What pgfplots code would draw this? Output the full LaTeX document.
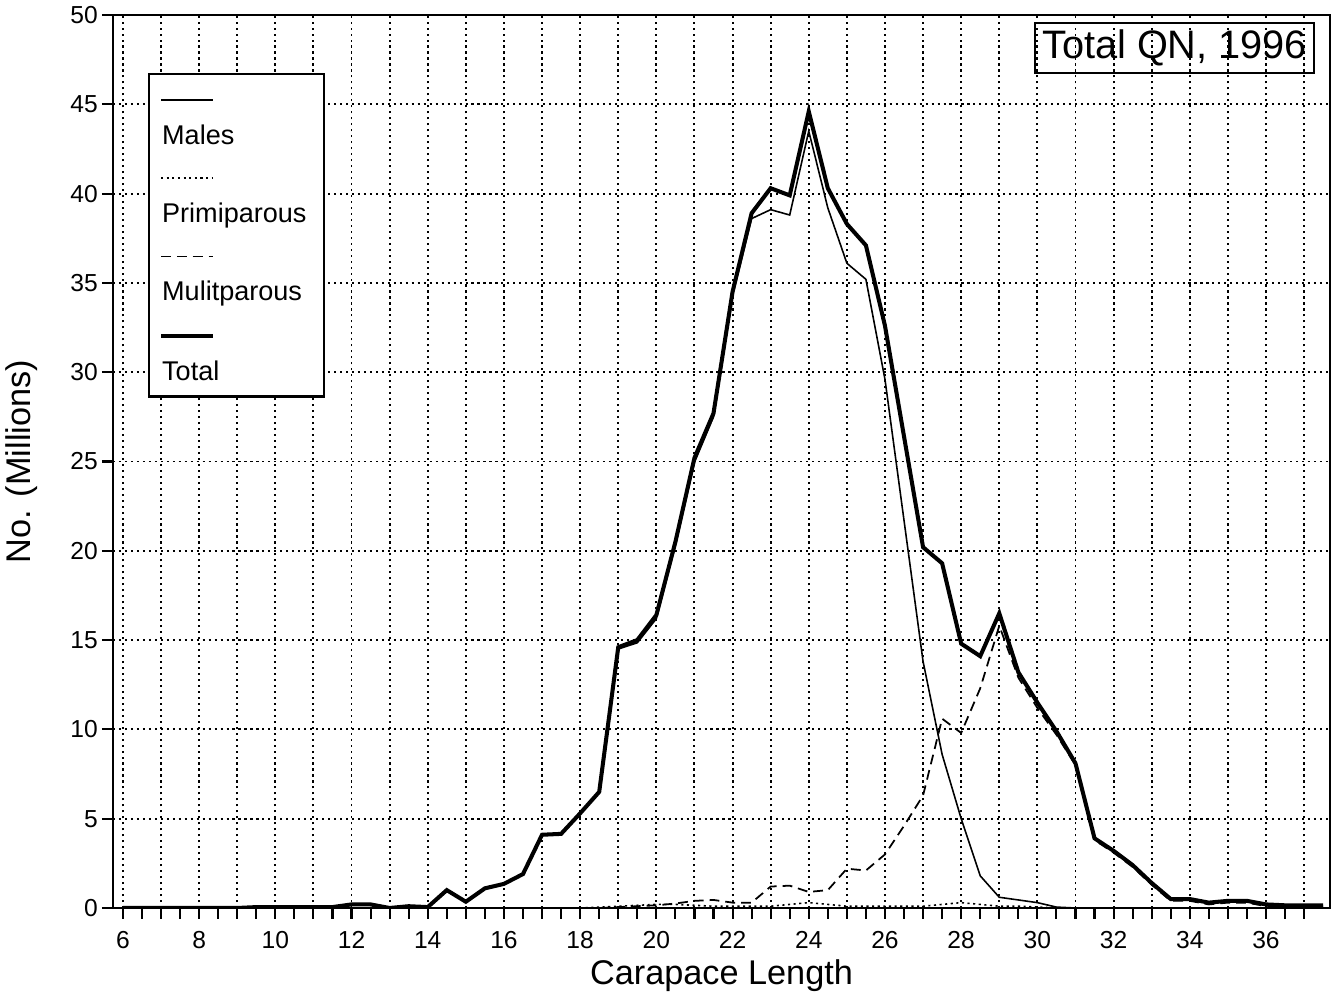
\documentclass[border=0pt]{standalone}
\usepackage{fontspec}
\setmainfont{Liberation Sans}
\usepackage{pgfplots}
\pgfplotsset{compat=1.18}

\begin{document}
\begin{tikzpicture}
\useasboundingbox (-1.13,-0.89) rectangle (12.21,9.08);
\begin{axis}[
    scale only axis,
    width=12.17cm, height=8.93cm,
    xmin=5.74, xmax=37.68,
    ymin=0, ymax=50,
    xtick={6,...,37},
    xticklabels={6,,8,,10,,12,,14,,16,,18,,20,,22,,24,,26,,28,,30,,32,,34,,36,},
    minor x tick num=1,
    ytick={0,5,...,50},
    xtick pos=lower, ytick pos=left,
    tick align=outside,
    major tick length=0.11cm, minor tick length=0.11cm,
    xtick style={line width=0.6pt, black},
    ytick style={line width=0.6pt, black},
    xmajorgrids, ymajorgrids,
    grid style={black, line width=0.55pt, dash pattern=on 0.6pt off 1.1pt},
    axis line style={line width=0.7pt},
    /pgf/number format/assume math mode=true,
    tick label style={font=\fontsize{7}{8}\selectfont},
    yticklabel style={inner xsep=1pt},
    xlabel={Carapace Length},
    ylabel={No. (Millions)},
    label style={font=\fontsize{9.75}{11}\selectfont},
    xlabel style={at={(axis description cs:0.5,-0.0862)}, anchor=base},
    ylabel style={at={(axis description cs:-0.0748,0.5)}, anchor=center},
    legend style={
        at={(axis description cs:0.0288,0.935)}, anchor=north west,
        draw=black, line width=0.6pt, fill=white,
        font=\fontsize{7.7}{9}\selectfont,
        inner xsep=0.1cm, inner ysep=0.04cm,
        row sep=0cm,
        /tikz/every odd column/.append style={column sep=-0.6cm},
    },
    legend cell align=left,
    legend image code/.code={%
        \path (0cm,0.58cm);
        \draw[#1] (0cm,0.37cm) -- (0.52cm,0.37cm);},
]

% Males
\addplot[black, line width=0.45pt] coordinates {
(6,0) (6.5,0) (7,0) (7.5,0) (8,0) (8.5,0) (9,0) (9.5,0.05) (10,0.05)
(10.5,0.05) (11,0.05) (11.5,0.05) (12,0.2) (12.5,0.2) (13,0) (13.5,0.1)
(14,0.05) (14.5,1.0) (15,0.35) (15.5,1.1) (16,1.35) (16.5,1.9) (17,4.1)
(17.5,4.15) (18,5.3) (18.5,6.45) (19,14.5) (19.5,14.85) (20,16.2)
(20.5,20.3) (21,24.95) (21.5,27.5) (22,34.3) (22.5,38.6) (23,39.1)
(23.5,38.8) (24,43.5) (24.5,39.2) (25,36.1) (25.5,35.2) (26,29.6)
(26.5,21.7) (27,13.8) (27.5,8.6) (28,5.0) (28.5,1.8) (29,0.6) (29.5,0.45)
(30,0.3) (30.5,0.05) (31,0) (31.5,0) (32,0) (32.5,0) (33,0) (33.5,0)
(34,0) (34.5,0) (35,0) (35.5,0) (36,0) (36.5,0) (37,0) (37.5,0)
};
\addlegendentry{Males}

% Primiparous
\addplot[black, line width=0.45pt, dash pattern=on 0.6pt off 1pt] coordinates {
(18,0) (18.5,0.05) (19,0.1) (19.5,0.15) (20,0.2) (20.5,0.2) (21,0.15)
(21.5,0.1) (22,0.1) (22.5,0.1) (23,0.1) (23.5,0.2) (24,0.3) (24.5,0.2)
(25,0.1) (25.5,0.1) (26,0.1) (26.5,0.1) (27,0.1) (27.5,0.2) (28,0.3)
(28.5,0.2) (29,0.1) (29.5,0.1) (30,0.05) (30.5,0)
};
\addlegendentry{Primiparous}

% Multiparous
\addplot[black, line width=0.5pt, dash pattern=on 2.8pt off 1.7pt] coordinates {
(18.5,0) (19,0.05) (19.5,0.1) (20,0.15) (20.5,0.25) (21,0.4) (21.5,0.45)
(22,0.3) (22.5,0.3) (23,1.2) (23.5,1.25) (24,0.9) (24.5,1.0) (25,2.2)
(25.5,2.1) (26,3.0) (26.5,4.6) (27,6.3) (27.5,10.6) (28,9.8) (28.5,12.3)
(29,15.8) (29.5,12.9) (30,11.2) (30.5,9.7) (31,8.0) (31.5,3.8) (32,3.1)
(32.5,2.3) (33,1.3) (33.5,0.4) (34,0.4) (34.5,0.2) (35,0.3) (35.5,0.3)
(36,0.1) (36.5,0.1) (37,0.1) (37.5,0.1)
};
\addlegendentry{Mulitparous}

% Total
\addplot[black, line width=1.15pt] coordinates {
(6,0) (6.5,0) (7,0) (7.5,0) (8,0) (8.5,0) (9,0) (9.5,0.05) (10,0.05)
(10.5,0.05) (11,0.05) (11.5,0.05) (12,0.2) (12.5,0.2) (13,0) (13.5,0.1)
(14,0.05) (14.5,1.0) (15,0.35) (15.5,1.1) (16,1.35) (16.5,1.9) (17,4.1)
(17.5,4.15) (18,5.3) (18.5,6.5) (19,14.6) (19.5,15.0) (20,16.4) (20.5,20.5)
(21,25.2) (21.5,27.7) (22,34.5) (22.5,38.9) (23,40.3) (23.5,39.9)
(24,44.6) (24.5,40.3) (25,38.3) (25.5,37.1) (26,32.6) (26.5,26.4)
(27,20.2) (27.5,19.3) (28,14.8) (28.5,14.1) (29,16.5) (29.5,13.2)
(30,11.5) (30.5,9.9) (31,8.1) (31.5,3.9) (32,3.2) (32.5,2.4) (33,1.4)
(33.5,0.5) (34,0.5) (34.5,0.3) (35,0.4) (35.5,0.4) (36,0.2) (36.5,0.15)
(37,0.15) (37.5,0.15)
};
\addlegendentry{Total}

\node[draw=black, line width=0.5pt, anchor=north east, inner xsep=2pt, inner ysep=2pt,
      font=\fontsize{11.3}{13}\selectfont]
      at (rel axis cs:1,1) [xshift=-0.15cm, yshift=-0.07cm] {Total QN, 1996};
\end{axis}
\end{tikzpicture}
\end{document}
